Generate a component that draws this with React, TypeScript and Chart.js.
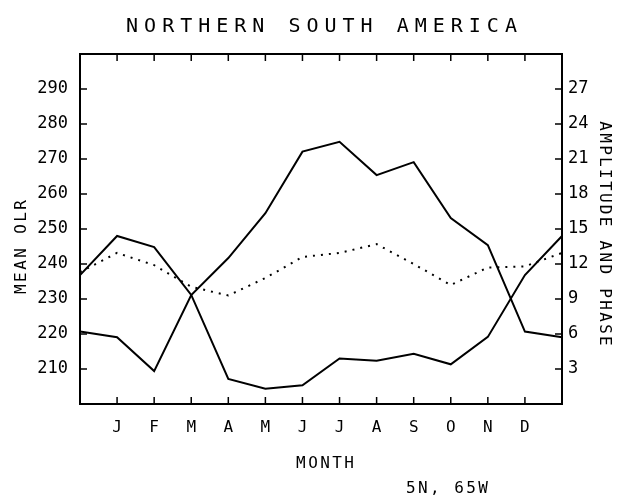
import React, { useEffect, useRef } from "react";
import { Chart, registerables } from "chart.js";

Chart.register(...registerables);

const MONTHS = ["J", "F", "M", "A", "M", "J", "J", "A", "S", "O", "N", "D"];
const X_LABELS = ["", ...MONTHS, ""];
const MEAN_OLR = [220.7, 219.1, 209.4, 231.1, 241.7, 254.5, 272.1, 274.9, 265.4, 269.1, 253.1, 245.4, 220.7, 219.1];
const AMPLITUDE = [11.05, 14.4, 13.45, 9.35, 2.15, 1.3, 1.6, 3.9, 3.7, 4.3, 3.4, 5.75, 11.05, 14.4];
const PHASE = [11.3, 12.95, 11.9, 10.05, 9.3, 10.8, 12.6, 12.95, 13.7, 12.0, 10.2, 11.7, 11.8, 12.95];
const LEFT_TICKS = [210, 220, 230, 240, 250, 260, 270, 280, 290];
const RIGHT_TICKS = [3, 6, 9, 12, 15, 18, 21, 24, 27];

const TITLE = "NORTHERN SOUTH AMERICA";
const X_TITLE = "MONTH";
const Y_TITLE = "MEAN OLR";
const Y2_TITLE = "AMPLITUDE AND PHASE";
const FOOTNOTE = "5N, 65W";

const FONT = "'DejaVu Sans Mono', monospace";

function spacedWidth(ctx: CanvasRenderingContext2D, text: string, spacing: number) {
  (ctx as any).letterSpacing = "0px";
  return ctx.measureText(text).width + spacing * (text.length - 1);
}

function drawSpaced(
  ctx: CanvasRenderingContext2D,
  text: string,
  x: number,
  y: number,
  size: number,
  spacing: number,
  align: "center" | "left",
  rotation = 0
) {
  ctx.save();
  ctx.font = `${size}px ${FONT}`;
  ctx.fillStyle = "#000";
  ctx.textBaseline = "alphabetic";
  ctx.textAlign = "left";
  const w = spacedWidth(ctx, text, spacing);
  (ctx as any).letterSpacing = `${spacing}px`;
  ctx.translate(x, y);
  ctx.rotate(rotation);
  ctx.fillText(text, align === "center" ? -w / 2 : 0, 0);
  ctx.restore();
}

const framePlugin = {
  id: "framePlugin",
  afterDraw(chart: any) {
    const ctx: CanvasRenderingContext2D = chart.ctx;
    const { left, right, top, bottom } = chart.chartArea;
    const xs = chart.scales.x;
    const yl = chart.scales.y;
    const yr = chart.scales.y1;
    ctx.save();
    ctx.strokeStyle = "#000";
    ctx.lineWidth = 2;
    ctx.strokeRect(left, top, right - left, bottom - top);
    ctx.lineWidth = 1.5;
    const TL = 7;
    ctx.beginPath();
    for (let i = 1; i <= MONTHS.length; i++) {
      const px = xs.getPixelForValue(i);
      ctx.moveTo(px, bottom);
      ctx.lineTo(px, bottom - TL);
      ctx.moveTo(px, top);
      ctx.lineTo(px, top + TL);
    }
    LEFT_TICKS.forEach((v) => {
      const py = yl.getPixelForValue(v);
      ctx.moveTo(left, py);
      ctx.lineTo(left + TL, py);
    });
    RIGHT_TICKS.forEach((v) => {
      const py = yr.getPixelForValue(v);
      ctx.moveTo(right, py);
      ctx.lineTo(right - TL, py);
    });
    ctx.stroke();
    ctx.restore();

    drawSpaced(ctx, TITLE, 321.5, 31.5, 20, 6, "center");
    drawSpaced(ctx, X_TITLE, 325, 468.3, 16, 2.4, "center");
    drawSpaced(ctx, FOOTNOTE, 406, 493.3, 16, 2.4, "left");
    drawSpaced(ctx, Y_TITLE, 25.5, 247, 16, 2.4, "center", -Math.PI / 2);
    drawSpaced(ctx, Y2_TITLE, 600, 233.5, 16, 2.3, "center", Math.PI / 2);
  },
};

export default function App() {
  const ref = useRef<HTMLCanvasElement | null>(null);

  useEffect(() => {
    document.body.style.margin = "0";
    const canvas = ref.current;
    if (!canvas) return;
    const chart = new Chart(canvas, {
      type: "line",
      data: {
        labels: X_LABELS,
        datasets: [
          {
            label: "Mean OLR",
            data: MEAN_OLR,
            yAxisID: "y",
            borderColor: "#000",
            borderWidth: 2,
            pointRadius: 0,
            tension: 0,
            fill: false,
          },
          {
            label: "Amplitude",
            data: AMPLITUDE,
            yAxisID: "y1",
            borderColor: "#000",
            borderWidth: 2,
            pointRadius: 0,
            tension: 0,
            fill: false,
          },
          {
            label: "Phase",
            data: PHASE,
            yAxisID: "y1",
            borderColor: "#000",
            borderWidth: 2,
            borderDash: [2, 6],
            pointRadius: 0,
            tension: 0,
            fill: false,
          },
        ],
      },
      options: {
        animation: false,
        responsive: false,
        devicePixelRatio: 1,
        layout: { padding: { top: 54, left: 0, right: 0, bottom: 0 } },
        plugins: {
          legend: { display: false },
          title: { display: false },
          tooltip: { enabled: false },
        },
        scales: {
          x: {
            type: "category",
            position: "bottom",
            offset: false,
            grid: { display: false, drawTicks: false },
            border: { display: false },
            ticks: {
              autoSkip: false,
              maxRotation: 0,
              color: "#000",
              padding: 14,
              font: { family: FONT, size: 16 },
            },
            afterFit: (s: any) => {
              s.height = 92;
            },
          },
          y: {
            type: "linear",
            position: "left",
            min: 200,
            max: 300,
            grid: { display: false, drawTicks: false },
            border: { display: false },
            ticks: {
              stepSize: 10,
              color: "#000",
              padding: 12,
              font: { family: FONT, size: 17 },
              callback: (v: any) => (v === 200 || v === 300 ? "" : String(v)),
            },
            afterFit: (s: any) => {
              s.width = 80;
            },
          },
          y1: {
            type: "linear",
            position: "right",
            min: 0,
            max: 30,
            grid: { display: false, drawTicks: false },
            border: { display: false },
            ticks: {
              stepSize: 3,
              color: "#000",
              padding: 6,
              font: { family: FONT, size: 17 },
              callback: (v: any) => (v === 0 || v === 30 ? "" : String(v)),
            },
            afterFit: (s: any) => {
              s.width = 61;
            },
          },
        },
      },
      plugins: [framePlugin],
    });
    return () => chart.destroy();
  }, []);

  return (
    <div style={{ width: 623, height: 496, background: "#fff" }}>
      <canvas ref={ref} width={623} height={496} style={{ display: "block" }} />
    </div>
  );
}
